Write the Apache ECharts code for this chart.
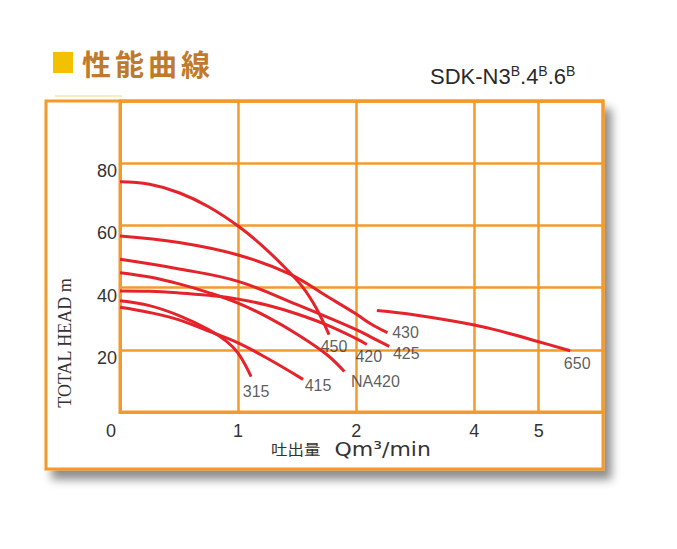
<!DOCTYPE html>
<html><head><meta charset="utf-8">
<script src="https://cdn.jsdelivr.net/npm/echarts@6/dist/echarts.min.js"></script>
<style>html,body{margin:0;padding:0;background:#fff}#c{width:677px;height:549px}</style>
</head><body><div id="c"></div>
<script>
// ---- data (flow Q in m3/min, total head in m) ----
const flowTicks = [0, 1, 2, 4, 5];
const flowMax = 6;
const headTicks = [20, 40, 60, 80];
const models = ['315', '415', 'NA420', '420', '425', '430', '450', '650'];

const q315 = [0, 0.25, 0.5, 0.75, 0.9, 1.0, 1.11];
const h315 = [35.8, 34.2, 31.0, 26.5, 22.8, 18.9, 11.4];

const q415 = [0, 0.25, 0.5, 0.75, 1.0, 1.25, 1.55];
const h415 = [33.7, 32.0, 29.6, 26.0, 22.2, 17.2, 10.5];

const qNA420 = [0, 0.25, 0.5, 0.75, 1.0, 1.25, 1.5, 1.75, 1.9];
const hNA420 = [44.8, 43.4, 41.2, 38.4, 35.0, 30.5, 25.0, 18.5, 13.0];

const q420 = [0, 0.25, 0.5, 0.75, 1.0, 1.25, 1.5, 1.75, 2.0, 2.18];
const h420 = [38.9, 38.8, 38.3, 37.5, 36.3, 34.3, 31.5, 28.0, 23.6, 21.7];

const q425 = [0, 0.5, 1.0, 1.5, 2.0, 2.3, 2.56];
const h425 = [49.1, 46.0, 42.0, 34.5, 26.5, 23.6, 21.1];

const q430 = [0, 0.5, 1.0, 1.43, 1.77, 2.0, 2.25, 2.53];
const h430 = [56.6, 54.5, 50.5, 44.5, 36.8, 31.5, 28.3, 25.5];

const q450 = [0, 0.25, 0.5, 0.75, 1.0, 1.2, 1.4, 1.55, 1.66, 1.77];
const h450 = [74.0, 73.2, 70.5, 66.0, 59.8, 53.6, 46.3, 40.0, 33.5, 24.9];

const q650 = [2.35, 3.0, 4.0, 4.5, 5.0, 5.49];
const h650 = [32.6, 31.2, 28.0, 25.5, 22.6, 19.7];

const flows = [q315, q415, qNA420, q420, q425, q430, q450, q650];
const heads = [h315, h415, hNA420, h420, h425, h430, h450, h650];

// label offsets (style only)
const labelOffsets = [[5, 15], [15, 6], [31, 10], [2, 12], [17, 7], [18, 0], [5, 12], [7, 13]];

// ---- the chart's piecewise flow scale (0-1-2 wide, 2-4 half, 4-6 narrow) ----
function flowToAxis(q) {
  if (q <= 2) return q;
  if (q <= 4) return 2 + (q - 2) / 2;
  return 3 + (q - 4) * 0.545;
}
const tickPos = flowTicks.map(flowToAxis);

const ORANGE = '#f39a2c';
const RED = '#e5232b';
const TXT = '#333333';

const series = flows.map((qs, i) => ({
  type: 'line',
  name: models[i],
  data: qs.map((q, j) => [flowToAxis(q), heads[i][j]]),
  smooth: 0.4,
  showSymbol: false,
  symbol: 'none',
  lineStyle: { color: RED, width: 3 },
  z: 5
}));

series.push({
  type: 'scatter',
  symbolSize: 0,
  silent: true,
  data: flows.map((qs, i) => ({
    name: models[i],
    value: [flowToAxis(qs[qs.length - 1]), heads[i][heads[i].length - 1]],
    label: { offset: labelOffsets[i] }
  })),
  label: {
    show: true, position: 'inside', formatter: p => p.name,
    color: TXT, fontSize: 16, fontFamily: 'Liberation Sans'
  },
  z: 6
});

const chart = echarts.init(document.getElementById('c'), null, { renderer: 'svg' });
chart.setOption({
  animation: false,
  backgroundColor: '#ffffff',
  grid: {
    left: 120, top: 101, right: 74, bottom: 137,
    show: true, borderColor: ORANGE, borderWidth: 3, backgroundColor: 'transparent',
    outerBoundsMode: 'none'
  },
  xAxis: {
    type: 'value', min: 0, max: flowToAxis(flowMax),
    axisLine: { show: true, lineStyle: { color: ORANGE, width: 3 } },
    axisTick: { show: false, customValues: tickPos },
    splitLine: { show: true, lineStyle: { color: ORANGE, width: 2.5 } },
    axisLabel: {
      customValues: tickPos, margin: 11, lineHeight: 15,
      color: TXT, fontSize: 18, fontFamily: 'Liberation Sans',
      formatter: v => {
        const k = tickPos.findIndex(t => Math.abs(t - v) < 1e-6);
        const s = k >= 0 ? String(flowTicks[k]) : '';
        return k === 0 ? '{z|' + s + '}' : s;
      },
      rich: { z: { padding: [0, 18, 0, 0], fontSize: 18, lineHeight: 15, color: TXT, fontFamily: 'Liberation Sans' } }
    }
  },
  yAxis: {
    type: 'value', min: 0, max: 100, interval: 20,
    axisLine: { show: true, lineStyle: { color: ORANGE, width: 3 } },
    axisTick: { show: false },
    splitLine: { show: true, lineStyle: { color: ORANGE, width: 2.5 } },
    axisLabel: {
      margin: 3,
      formatter: v => headTicks.indexOf(v) >= 0 ? '{a|' + v + '}' : '',
      rich: { a: { padding: [16, 0, 0, 0], fontSize: 18, color: TXT, fontFamily: 'Liberation Sans' } }
    }
  },
  graphic: [
    { type: 'rect', z: -100, shape: { x: 46, y: 101, width: 557, height: 368 },
      style: { fill: '#fff', stroke: ORANGE, lineWidth: 3, shadowBlur: 10, shadowOffsetX: 7, shadowOffsetY: 9, shadowColor: 'rgba(0,0,0,0.45)' } },
    { type: 'rect', shape: { x: 53, y: 52, width: 20, height: 21 }, style: { fill: '#f2c200' } },
    { type: 'line', shape: { x1: 55, y1: 96, x2: 122, y2: 96 }, style: { stroke: '#f6eebc', lineWidth: 2 } },
    { type: 'text', x: 82, y: 63, style: {
        text: '{a|性}{a|能}{a|曲}{a|線}', verticalAlign: 'middle',
        rich: { a: { fontSize: 29, fontWeight: 'bold', fontFamily: 'Noto Sans CJK JP', fill: '#bf7a2c', padding: [0, 4, 0, 0] } } } },
    { type: 'text', x: 430, y: 76, style: {
        text: '{a|SDK-N3}{s|B}{a|.4}{s|B}{a|.6}{s|B}', verticalAlign: 'middle',
        rich: {
          a: { fontSize: 22, fontFamily: 'Liberation Sans', fill: '#2a2a2a', lineHeight: 24 },
          s: { fontSize: 14, fontFamily: 'Liberation Sans', fill: '#2a2a2a', verticalAlign: 'top', lineHeight: 24, padding: [0, 0, 10, 0] }
        } } },
    { type: 'text', x: 65, y: 343, rotation: Math.PI / 2, style: {
        text: 'TOTAL HEAD m', fill: TXT, font: '18px "Liberation Serif"', align: 'center', verticalAlign: 'middle' } },
    { type: 'text', x: 271, y: 449, scaleX: 1.1, style: {
        text: '{c|吐出量}{l|  Qm³/min}', verticalAlign: 'middle',
        rich: {
          c: { fontSize: 15, fontFamily: 'Noto Sans CJK JP', fill: TXT },
          l: { fontSize: 20, fontFamily: 'DejaVu Sans', fill: TXT }
        } } }
  ],
  series: series
});
</script></body></html>
